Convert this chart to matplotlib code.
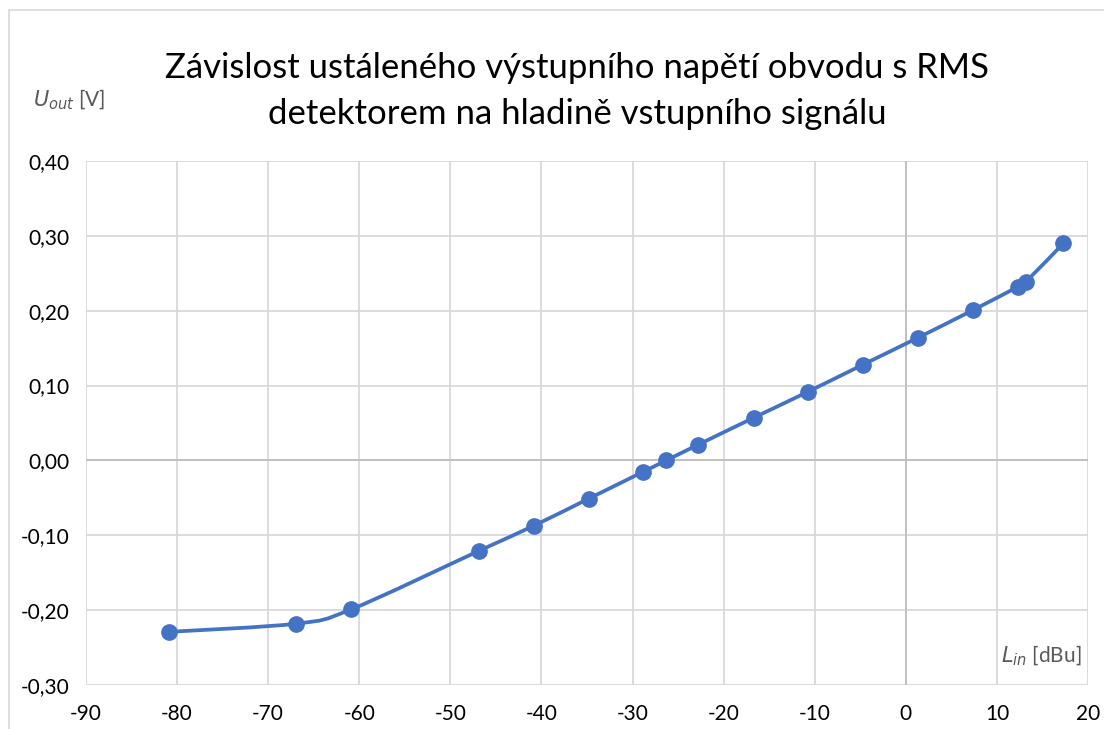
import numpy as np
import matplotlib
matplotlib.use("Agg")
from matplotlib import pyplot as plt
from matplotlib.path import Path
from matplotlib.patches import PathPatch, Rectangle

# ---- data ----
L_IN = [-80.9, -66.9, -60.9, -46.9, -40.8, -34.8, -28.8, -26.3, -22.8,
        -16.7, -10.7, -4.7, 1.35, 7.4, 12.3, 13.2, 17.3]
U_OUT = [-0.229, -0.218, -0.199, -0.121, -0.087, -0.051, -0.015, 0.000, 0.021,
         0.057, 0.092, 0.128, 0.164, 0.201, 0.232, 0.239, 0.290]

X_TICKS = [-90, -80, -70, -60, -50, -40, -30, -20, -10, 0, 10, 20]
Y_TICKS = [-0.30, -0.20, -0.10, 0.00, 0.10, 0.20, 0.30, 0.40]

TITLE = "Závislost ustáleného výstupního napětí obvodu s RMS\ndetektorem na hladině vstupního signálu"

BLUE = "#4472C4"
GRID = "#D9D9D9"
AXIS = "#BFBFBF"
LABEL = "#595959"
FONT = "Lato"


def smooth_path(xs, ys):
    # excel-like smoothed line: catmull-rom turned into cubic beziers
    pts = np.column_stack([xs, ys])
    n = len(pts)
    verts = [pts[0]]
    codes = [Path.MOVETO]
    for i in range(n - 1):
        p0 = pts[max(i - 1, 0)]
        p1 = pts[i]
        p2 = pts[i + 1]
        p3 = pts[min(i + 2, n - 1)]
        c1 = p1 + (p2 - p0) / 6.0
        c2 = p2 - (p3 - p1) / 6.0
        verts += [c1, c2, p2]
        codes += [Path.CURVE4] * 3
    return Path(verts, codes)


plt.rcParams["font.family"] = [FONT, "DejaVu Sans"]

W, H = 1104, 729
fig = plt.figure(figsize=(W / 100, H / 100), dpi=100)

# chart area border (cropped at right/bottom)
fig.patches.append(Rectangle((9 / W, -0.05), 1.2, 1 - 10 / H + 0.05,
                             transform=fig.transFigure, fill=False,
                             edgecolor=GRID, linewidth=1.2))

left, right, top, bottom = 86, 1088, 161, 685
ax = fig.add_axes([left / W, 1 - bottom / H, (right - left) / W, (bottom - top) / H])

ax.set_xlim(-90, 20)
ax.set_ylim(-0.30, 0.40)
ax.set_xticks(X_TICKS)
ax.set_yticks(Y_TICKS)
ax.set_xticklabels([str(t) for t in X_TICKS])
ax.set_yticklabels([f"{t:.2f}".replace(".", ",") for t in Y_TICKS])
ax.tick_params(length=0, labelsize=15, colors="black", pad=14)
ax.tick_params(axis="y", pad=12)

ax.grid(True, color=GRID, linewidth=1.3)
ax.set_axisbelow(True)
for s in ax.spines.values():
    s.set_visible(False)
ax.axvline(0, color=AXIS, linewidth=1.3, zorder=1)
ax.axhline(0, color=AXIS, linewidth=1.3, zorder=1)

ax.add_patch(PathPatch(smooth_path(L_IN, U_OUT), facecolor="none",
                       edgecolor=BLUE, linewidth=2.7, capstyle="round", zorder=3))
ax.plot(L_IN, U_OUT, linestyle="none", marker="o", markersize=11,
        color=BLUE, zorder=4)

fig.text(577 / W, 1 - 91 / H, TITLE, ha="center", va="center",
         fontsize=25, linespacing=1.5, color="black")

fig.text(33 / W, 1 - 100 / H, r"$\mathit{U}_{\mathit{out}}$ [V]", ha="left", va="center",
         fontsize=15, color=LABEL)
fig.text(1082 / W, 1 - 656 / H, r"$\mathit{L}_{\mathit{in}}$ [dBu]", ha="right", va="center",
         fontsize=15, color=LABEL)

fig.savefig("out.png", dpi=100)
